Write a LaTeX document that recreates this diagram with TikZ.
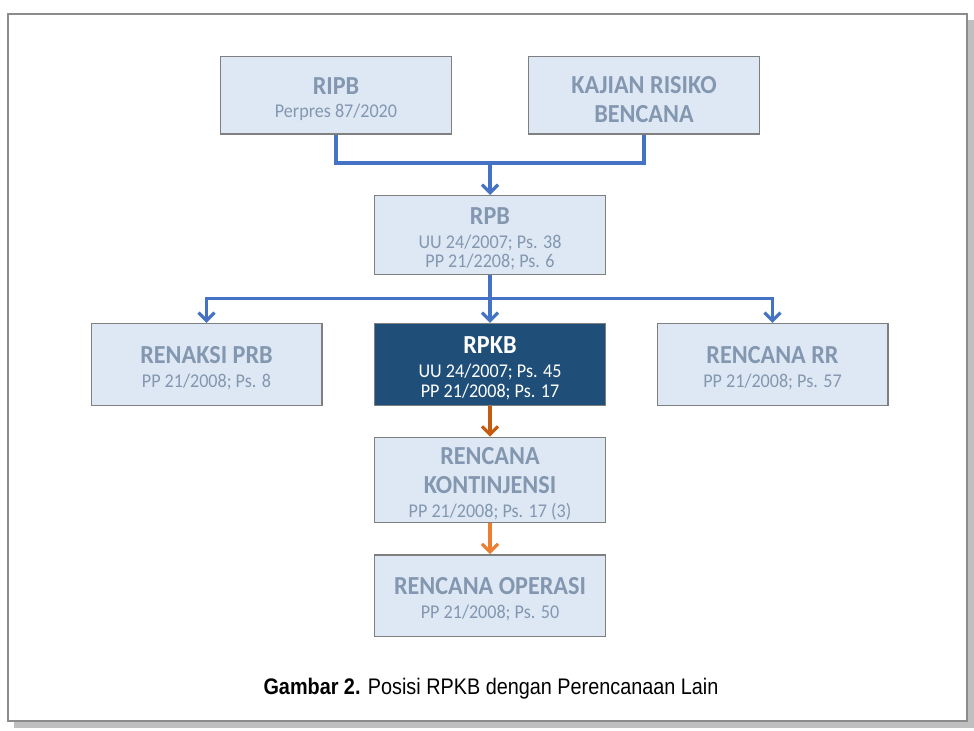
\documentclass[tikz,border=0pt]{standalone}
\usepackage{fontspec}
\setmainfont{Carlito}[FakeStretch=0.93]
\newfontfamily\capfont{Liberation Sans}[FakeStretch=0.88]
\usepackage{tikz}
\usetikzlibrary{arrows.meta}

\definecolor{boxfill}{HTML}{DDE8F4}
\definecolor{boxtext}{HTML}{8497B0}
\definecolor{boxline}{HTML}{7F7F7F}
\definecolor{navy}{HTML}{1F4E79}
\definecolor{linkblue}{HTML}{4472C4}
\definecolor{rust}{HTML}{C55A11}
\definecolor{amber}{HTML}{ED7D31}
\definecolor{framegray}{HTML}{8C8C8C}
\definecolor{shadegray}{HTML}{BFBFBF}

\newcommand{\ttl}[1]{{\fontsize{19.5}{21}\selectfont\bfseries #1}}
\newcommand{\sbt}[1]{{\fontsize{14.6}{17.5}\selectfont #1}}
\newcommand{\lift}{\rule{0pt}{18.5pt}}

\begin{document}
\begin{tikzpicture}[x=0.75pt,y=0.75pt,yscale=-1,xscale=1,
  plan/.style={draw=boxline,line width=1pt,fill=boxfill,text=boxtext,minimum width=173pt,minimum height=60pt,align=center,inner sep=2pt,font=\fontsize{14.6}{17.5}\selectfont},
  key/.style={plan,fill=navy,text=white},
  wire/.style={draw=linkblue,line width=2.4pt},
  link/.style={wire,-{Straight Barb[length=6pt,width=12pt]}}]
\useasboundingbox (0,0) rectangle (974,731);

%Shape: Rectangle [frame and its shadow]
\fill[shadegray] (14,20) rectangle (974,728);
\draw[draw=framegray,fill=white,line width=1.6pt] (8,14) rectangle (967,721);

% Text Node
\node[plan,minimum height=58pt] (ripb) at (336,95.5) {\lift\ttl{RIPB}\\\sbt{Perpres 87/2020}};
% Text Node
\node[plan,minimum height=58pt] (kajian) at (644,95.5) {\lift\ttl{KAJIAN RISIKO}\\[4.5pt]\ttl{BENCANA}};
% Text Node
\node[plan,minimum height=59pt] (rpb) at (490,235) {\lift\ttl{RPB}\\[0.5pt]\sbt{UU 24/2007; Ps. 38}\\[-3pt]\sbt{PP 21/2208; Ps. 6}};
% Text Node
\node[plan,minimum height=61.5pt] (renaksi) at (206.5,364.5) {\lift\ttl{RENAKSI PRB}\\\sbt{PP 21/2008; Ps. 8}};
% Text Node
\node[key,minimum height=61.5pt] (rpkb) at (490,364.5) {\lift\ttl{RPKB}\\[0.5pt]\sbt{UU 24/2007; Ps. 45}\\[-3pt]\sbt{PP 21/2008; Ps. 17}};
% Text Node
\node[plan,minimum height=61.5pt] (rr) at (772.5,364.5) {\lift\ttl{RENCANA RR}\\\sbt{PP 21/2008; Ps. 57}};
% Text Node
\node[plan,minimum height=61.5pt] (kontinjensi) at (490,480) {\lift\ttl{RENCANA}\\[4.5pt]\ttl{KONTINJENSI}\\\sbt{PP 21/2008; Ps. 17 (3)}};
% Text Node
\node[plan,minimum height=61pt] (operasi) at (490,595.5) {\lift\ttl{RENCANA OPERASI}\\\sbt{PP 21/2008; Ps. 50}};

%Straight Lines [top bus]
\coordinate (top bus) at (490,163);
\draw[wire] (ripb.south) |- (top bus) -| (kajian.south);
\draw[link] (top bus) -- (rpb.north);
%Straight Lines [middle bus]
\coordinate (mid bus) at (490,298.5);
\draw[wire] (rpb.south) -- (mid bus);
\draw[link] (mid bus) -| (renaksi.north);
\draw[link] (mid bus) -- (rpkb.north);
\draw[link] (mid bus) -| (rr.north);
%Straight Lines [lower chain]
\draw[link,draw=rust] (rpkb.south) -- (kontinjensi.north);
\draw[link,draw=amber] (kontinjensi.south) -- (operasi.north);

% Text Node
\node[font=\capfont\fontsize{16.9}{20}\selectfont,anchor=base] (caption) at (491,694) {\textbf{Gambar 2.} Posisi RPKB dengan Perencanaan Lain};

\end{tikzpicture}
\end{document}
